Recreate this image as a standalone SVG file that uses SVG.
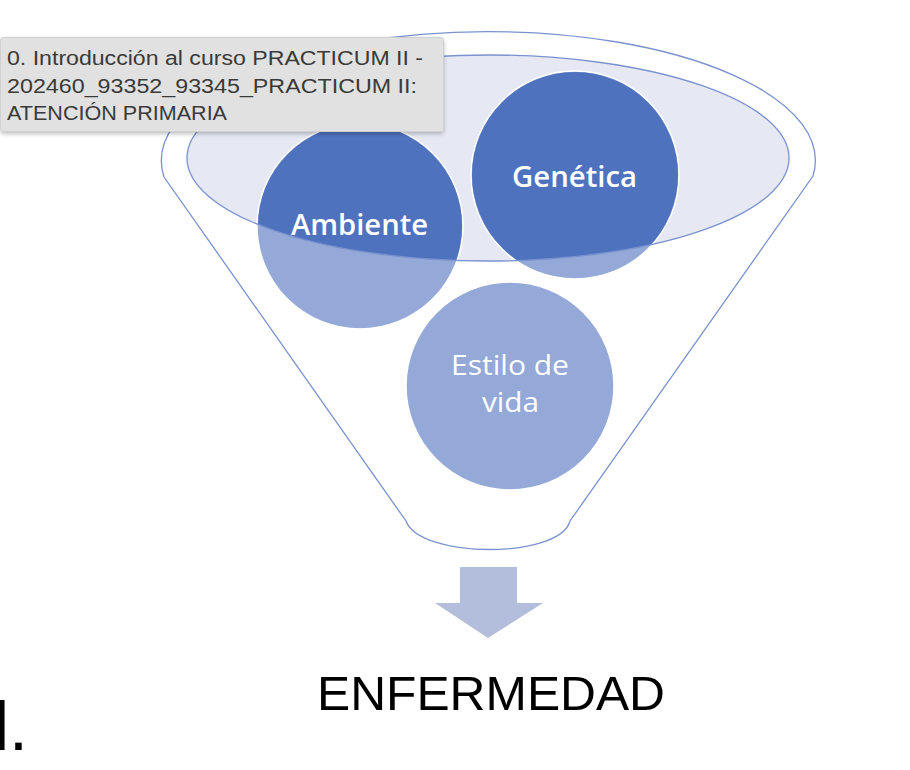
<svg xmlns="http://www.w3.org/2000/svg" width="910" height="770" viewBox="0 0 910 770">
  <style>
    .outline { fill: none; stroke: #7a92cf; stroke-width: 1.3; }
    .circ-light { fill: #94a9d8; stroke: #ffffff; stroke-width: 1.5; }
    .circ-dark { fill: #4f72bf; }
    .ctext { font-family: "Open Sans", "Liberation Sans", sans-serif; font-size: 28px; fill: #ffffff; text-anchor: start; }
    .tip { font-family: "Liberation Sans", Arial, sans-serif; font-size: 20px; fill: #3a3a3a; }
  </style>
  <defs>
    <clipPath id="innerClip">
      <ellipse cx="488" cy="158" rx="301" ry="103"/>
    </clipPath>
    <filter id="shadow" x="-5%" y="-10%" width="110%" height="130%">
      <feGaussianBlur in="SourceAlpha" stdDeviation="2"/>
      <feOffset dx="0" dy="1.5"/>
      <feComponentTransfer><feFuncA type="linear" slope="0.25"/></feComponentTransfer>
      <feMerge><feMergeNode/><feMergeNode in="SourceGraphic"/></feMerge>
    </filter>
  </defs>

  <rect x="0" y="0" width="910" height="770" fill="#ffffff"/>

  <g id="funnel">
    <path d="M164,177 A327,129 0 1 1 813,176 L570,521 C560,559 420,559 406,521 Z" fill="#ffffff" stroke="#7a92cf" stroke-width="1.3"/>
    <ellipse cx="488" cy="158" rx="301" ry="103" fill="#e6e9f4"/>
  </g>

  <g id="node-ambiente">
    <circle class="circ-light" cx="360" cy="226" r="103"/>
    <circle class="circ-dark" cx="360" cy="226" r="102" clip-path="url(#innerClip)"/>
    <text class="ctext" x="291" y="235" textLength="137" lengthAdjust="spacingAndGlyphs" font-weight="600">Ambiente</text>
  </g>

  <g id="node-genetica">
    <circle class="circ-light" cx="575" cy="175" r="104"/>
    <circle class="circ-dark" cx="575" cy="175" r="103" clip-path="url(#innerClip)"/>
    <text class="ctext" x="512" y="187" textLength="125" lengthAdjust="spacingAndGlyphs" font-weight="600">Genética</text>
  </g>

  <g id="node-estilo">
    <circle class="circ-light" cx="510" cy="386" r="104"/>
    <text class="ctext" x="451" y="375" textLength="118" lengthAdjust="spacingAndGlyphs">Estilo de</text>
    <text class="ctext" x="482" y="412" textLength="57" lengthAdjust="spacingAndGlyphs">vida</text>
  </g>

  <g id="inner-rim">
    <ellipse class="outline" cx="488" cy="158" rx="301" ry="103"/>
  </g>

  <g id="connectors">
    <path d="M460,567 H517 V603 H543 L488,638 L435,603 H460 Z" fill="#b3bedd"/>
  </g>

  <g id="node-enfermedad">
    <text x="317" y="710" font-family="'Liberation Sans', Arial, sans-serif" font-size="49" fill="#000000" textLength="348" lengthAdjust="spacingAndGlyphs">ENFERMEDAD</text>
  </g>

  <g id="fragment">
    <text x="-6" y="750" font-family="'Liberation Sans', Arial, sans-serif" font-size="68" fill="#000000">l.</text>
  </g>

  <g id="tooltip">
    <rect x="0.5" y="37.5" width="443" height="94" rx="3" fill="#e0e1e0" stroke="#cfd0cf" stroke-width="1" filter="url(#shadow)"/>
    <text class="tip" x="7" y="65" textLength="416" lengthAdjust="spacingAndGlyphs">0. Introducción al curso PRACTICUM II -</text>
    <text class="tip" x="7" y="93" textLength="410" lengthAdjust="spacingAndGlyphs">202460_93352_93345_PRACTICUM II:</text>
    <text class="tip" x="7" y="120" textLength="220" lengthAdjust="spacingAndGlyphs">ATENCIÓN PRIMARIA</text>
  </g>
</svg>
